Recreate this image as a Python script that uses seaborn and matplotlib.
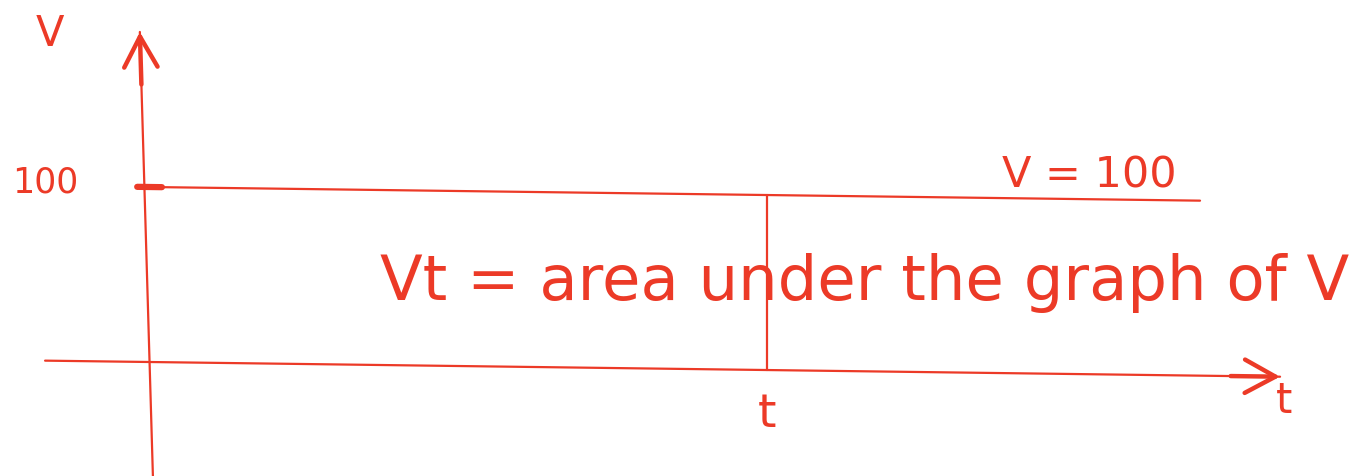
import matplotlib
matplotlib.use("Agg")
import matplotlib.pyplot as plt
import matplotlib.transforms as mtransforms
import numpy as np
import seaborn as sns
import pandas as pd

sns.set_theme(style="white")
plt.rcParams["font.family"] = ["DejaVu Sans"]

INK = "#EC3A27"

# Sketch values: constant speed v = 100 up to time t
v_level = 100
t_mark = 5
t_axis = [-0.846, 9.154]    # extent of the time axis
v_axis = [-65.14, 188.6]    # extent of the speed axis
t_line = [-0.077, 8.506]    # extent of the v = 100 line

axis_labels = ["V", "t"]
level_label = "100"
line_label = "V = 100"
caption = "Vt = area under the graph of V"

fig = plt.figure(figsize=(13.56, 4.77), dpi=100)
ax = fig.add_axes([0, 0, 1, 1])
ax.set_xlim(-1.211, 9.769)
ax.set_ylim(-65.14, 207.43)
ax.axis("off")

# freehand look: the hand-drawn lines lean slightly
ox, oy = ax.transData.transform((0, 0))


def lean(a=0.0, b=0.0):
    m = np.array([[1.0, a, 0.0], [b, 1.0, 0.0], [0.0, 0.0, 1.0]])
    return ax.transData + (mtransforms.Affine2D().translate(-ox, -oy)
                           + mtransforms.Affine2D(m)
                           + mtransforms.Affine2D().translate(ox, oy))


lean_h = lean(b=-0.013)
lean_v = lean(a=-0.0294)

lw = 1.6


def draw(df, trans):
    n = len(ax.lines)
    sns.lineplot(data=df, x="t", y="v", ax=ax, color=INK, lw=lw,
                 estimator=None, sort=False)
    for line in ax.lines[n:]:
        line.set_transform(trans)


# axes of the sketch
draw(pd.DataFrame({"t": t_axis, "v": [0, 0]}), lean_h)
draw(pd.DataFrame({"t": [0, 0], "v": v_axis}), lean_v)

# arrowheads
head = dict(arrowstyle="->,head_length=1.1,head_width=0.6", color=INK,
            lw=3.2, mutation_scale=20, shrinkA=0, shrinkB=0,
            capstyle="round", joinstyle="round")
ax.annotate("", xy=(0, v_axis[1]), xytext=(0, v_axis[1] - 30),
            xycoords=lean_v, textcoords=lean_v, arrowprops=head)
ax.annotate("", xy=(t_axis[1], 0), xytext=(t_axis[1] - 0.4, 0),
            xycoords=lean_h, textcoords=lean_h, arrowprops=head)

# v = 100 line and the vertical line at t, joined to the sloping lines
draw(pd.DataFrame({"t": t_line, "v": [v_level, v_level]}), lean_h)
draw(pd.DataFrame({"t": [t_mark, t_mark], "v": [0, v_level]}), lean_h)

# tick mark at 100 on the speed axis
ax.plot([-0.1, 0.1], [v_level, v_level], color=INK, lw=4.5,
        solid_capstyle="round", transform=lean_h)

# labels
ax.text(-0.806, 188, axis_labels[0], color=INK, fontsize=30, ha="center", va="center")
ax.text(-0.846, v_level + 3, level_label, color=INK, fontsize=25, ha="center", va="center")
ax.text(t_axis[1] + 0.03, -21.5, axis_labels[1], color=INK, fontsize=30, ha="center", va="center")
ax.text(t_mark, -29.7, axis_labels[1], color=INK, fontsize=34, ha="center", va="center")
ax.text(8.32, v_level + 7.4, line_label, color=INK, fontsize=31, ha="right", va="center")
ax.text(1.866, 36, caption, color=INK, fontsize=45, ha="left", va="baseline")

fig.savefig("out.png", dpi=100)
